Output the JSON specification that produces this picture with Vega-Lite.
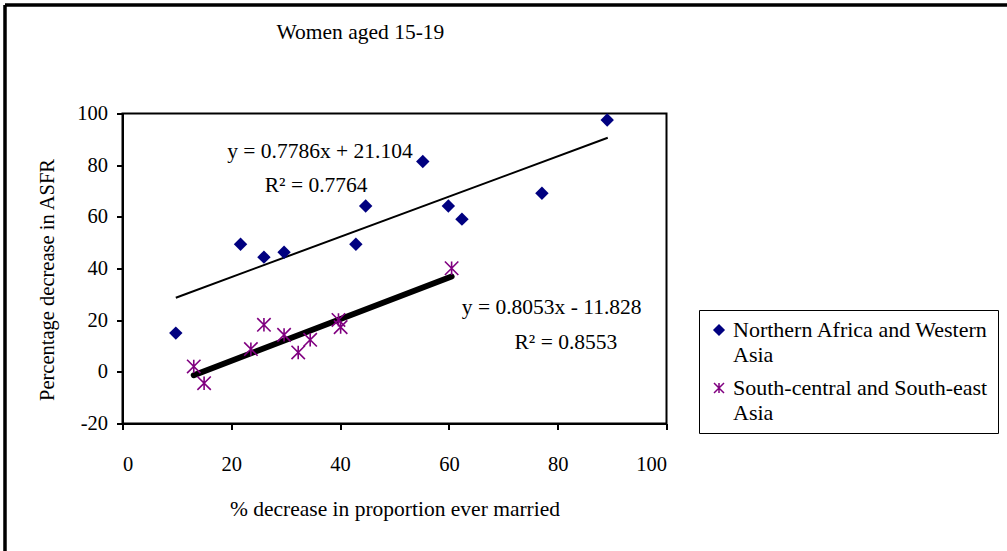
{
  "$schema": "https://vega.github.io/schema/vega-lite/v6.json",
  "width": 544,
  "height": 310,
  "autosize": {"type": "none"},
  "padding": {"left": 122.5, "top": 113.5, "right": 340.5, "bottom": 127.5},
  "background": "white",
  "config": {
    "font": "Liberation Serif",
    "view": {"stroke": "black", "strokeWidth": 2},
    "style": {"guide-label": {"lineHeight": 25, "font": "Liberation Serif"}},
    "axis": {
      "grid": false, "domainColor": "black", "domainWidth": 2, "tickColor": "black", "tickWidth": 2, "tickSize": 6,
      "labelFont": "Liberation Serif", "labelFontSize": 20.5, "labelColor": "black",
      "titleFont": "Liberation Serif", "titleFontSize": 21.5, "titleFontWeight": "normal", "titleColor": "black"
    },
    "legend": {"labelFont": "Liberation Serif", "labelFontSize": 22, "labelColor": "black", "labelLimit": 400}
  },
  "title": {"text": "Women aged 15-19", "anchor": "start", "frame": "group", "dx": 154, "offset": -56.5, "baseline": "alphabetic", "font": "Liberation Serif", "fontSize": 21.5, "fontWeight": "normal", "color": "black"},
  "datasets": {
    "north": [
      {"region": "Northern Africa and Western Asia", "married": 9.8, "asfr": 15.0},
      {"region": "Northern Africa and Western Asia", "married": 21.7, "asfr": 49.4},
      {"region": "Northern Africa and Western Asia", "married": 26.0, "asfr": 44.4},
      {"region": "Northern Africa and Western Asia", "married": 29.7, "asfr": 46.3},
      {"region": "Northern Africa and Western Asia", "married": 42.9, "asfr": 49.4},
      {"region": "Northern Africa and Western Asia", "married": 44.7, "asfr": 64.2},
      {"region": "Northern Africa and Western Asia", "married": 55.2, "asfr": 81.4},
      {"region": "Northern Africa and Western Asia", "married": 59.9, "asfr": 64.2},
      {"region": "Northern Africa and Western Asia", "married": 62.4, "asfr": 59.1},
      {"region": "Northern Africa and Western Asia", "married": 77.1, "asfr": 69.1},
      {"region": "Northern Africa and Western Asia", "married": 89.1, "asfr": 97.5}
    ],
    "south": [
      {"region": "South-central and South-east Asia", "married": 13.1, "asfr": 2.1},
      {"region": "South-central and South-east Asia", "married": 15.0, "asfr": -4.4},
      {"region": "South-central and South-east Asia", "married": 23.6, "asfr": 8.8},
      {"region": "South-central and South-east Asia", "married": 26.0, "asfr": 18.2},
      {"region": "South-central and South-east Asia", "married": 29.7, "asfr": 14.3},
      {"region": "South-central and South-east Asia", "married": 32.3, "asfr": 7.5},
      {"region": "South-central and South-east Asia", "married": 34.5, "asfr": 12.4},
      {"region": "South-central and South-east Asia", "married": 39.7, "asfr": 20.1},
      {"region": "South-central and South-east Asia", "married": 40.1, "asfr": 17.3},
      {"region": "South-central and South-east Asia", "married": 60.5, "asfr": 40.1}
    ],
    "trendN": [{"married": 9.8, "asfr": 28.7}, {"married": 89.2, "asfr": 90.6}],
    "trendS": [{"married": 13.1, "asfr": -1.3}, {"married": 60.5, "asfr": 36.9}],
    "notes": [
      {"married": 36.3, "asfr": 85.1, "label": "y = 0.7786x + 21.104"},
      {"married": 35.6, "asfr": 72.0, "label": "R² = 0.7764"},
      {"married": 78.9, "asfr": 24.8, "label": "y = 0.8053x - 11.828"},
      {"married": 81.5, "asfr": 11.2, "label": "R² = 0.8553"}
    ]
  },
  "encoding": {
    "x": {"field": "married", "type": "quantitative", "scale": {"domain": [0, 100], "nice": false},
      "axis": {"values": [0, 20, 40, 60, 80, 100], "labelFont": "Liberation Serif", "labelExpr": "'' + datum.value", "labelPadding": 25, "titlePadding": 23, "title": "% decrease in proportion ever married"}},
    "y": {"field": "asfr", "type": "quantitative", "scale": {"domain": [-20, 100], "nice": false},
      "axis": {"values": [-20, 0, 20, 40, 60, 80, 100], "labelFont": "Liberation Serif", "labelExpr": "'' + datum.value", "labelPadding": 9, "titlePadding": 19, "titleFontSize": 20.5, "titleY": 166, "title": "Percentage decrease in ASFR"}}
  },
  "layer": [
    {"data": {"name": "trendN"}, "mark": {"type": "rule", "color": "black", "strokeWidth": 3, "clip": false},
      "encoding": {"x": {"datum": -21.6, "type": "quantitative"}, "x2": {"datum": 200}, "y": {"datum": 142, "type": "quantitative"}}},
    {"data": {"name": "trendN"}, "mark": {"type": "rule", "color": "black", "strokeWidth": 3, "clip": false},
      "encoding": {"x": {"datum": -21.6, "type": "quantitative"}, "y": {"datum": 142, "type": "quantitative"}, "y2": {"datum": -200}}},
    {"data": {"name": "trendN"}, "mark": {"type": "line", "color": "black", "strokeWidth": 2}},
    {"data": {"name": "trendS"}, "mark": {"type": "line", "color": "black", "strokeWidth": 6, "strokeCap": "round"}},
    {"data": {"name": "north"}, "mark": {"type": "point", "filled": true, "size": 180, "opacity": 1},
      "encoding": {
        "color": {"field": "region", "type": "nominal",
          "scale": {"domain": ["Northern Africa and Western Asia", "South-central and South-east Asia"], "range": ["#000080", "#800080"]},
          "legend": {"orient": "none", "legendX": 576.5, "legendY": 196.5, "title": null, "padding": 9, "strokeColor": "black", "rowPadding": 11, "symbolSize": 100, "symbolOffset": 0, "labelOffset": 3,
            "labelExpr": "datum.label == 'Northern Africa and Western Asia' ? ['Northern Africa and Western', 'Asia'] : ['South-central and South-east', 'Asia']"}},
        "shape": {"field": "region", "type": "nominal",
          "scale": {"domain": ["Northern Africa and Western Asia", "South-central and South-east Asia"], "range": ["diamond", "M-1,-1L1,1M-1,1L1,-1M0,-1L0,1"]},
          "legend": null}}},
    {"data": {"name": "south"}, "mark": {"type": "point", "filled": false, "size": 180, "strokeWidth": 1.6, "opacity": 1},
      "encoding": {"color": {"field": "region", "type": "nominal", "legend": null}, "shape": {"field": "region", "type": "nominal", "legend": null}}},
    {"data": {"name": "notes"}, "mark": {"type": "text", "font": "Liberation Serif", "fontSize": 21.5, "color": "black", "align": "center", "baseline": "middle"},
      "encoding": {"text": {"field": "label"}}}
  ]
}
